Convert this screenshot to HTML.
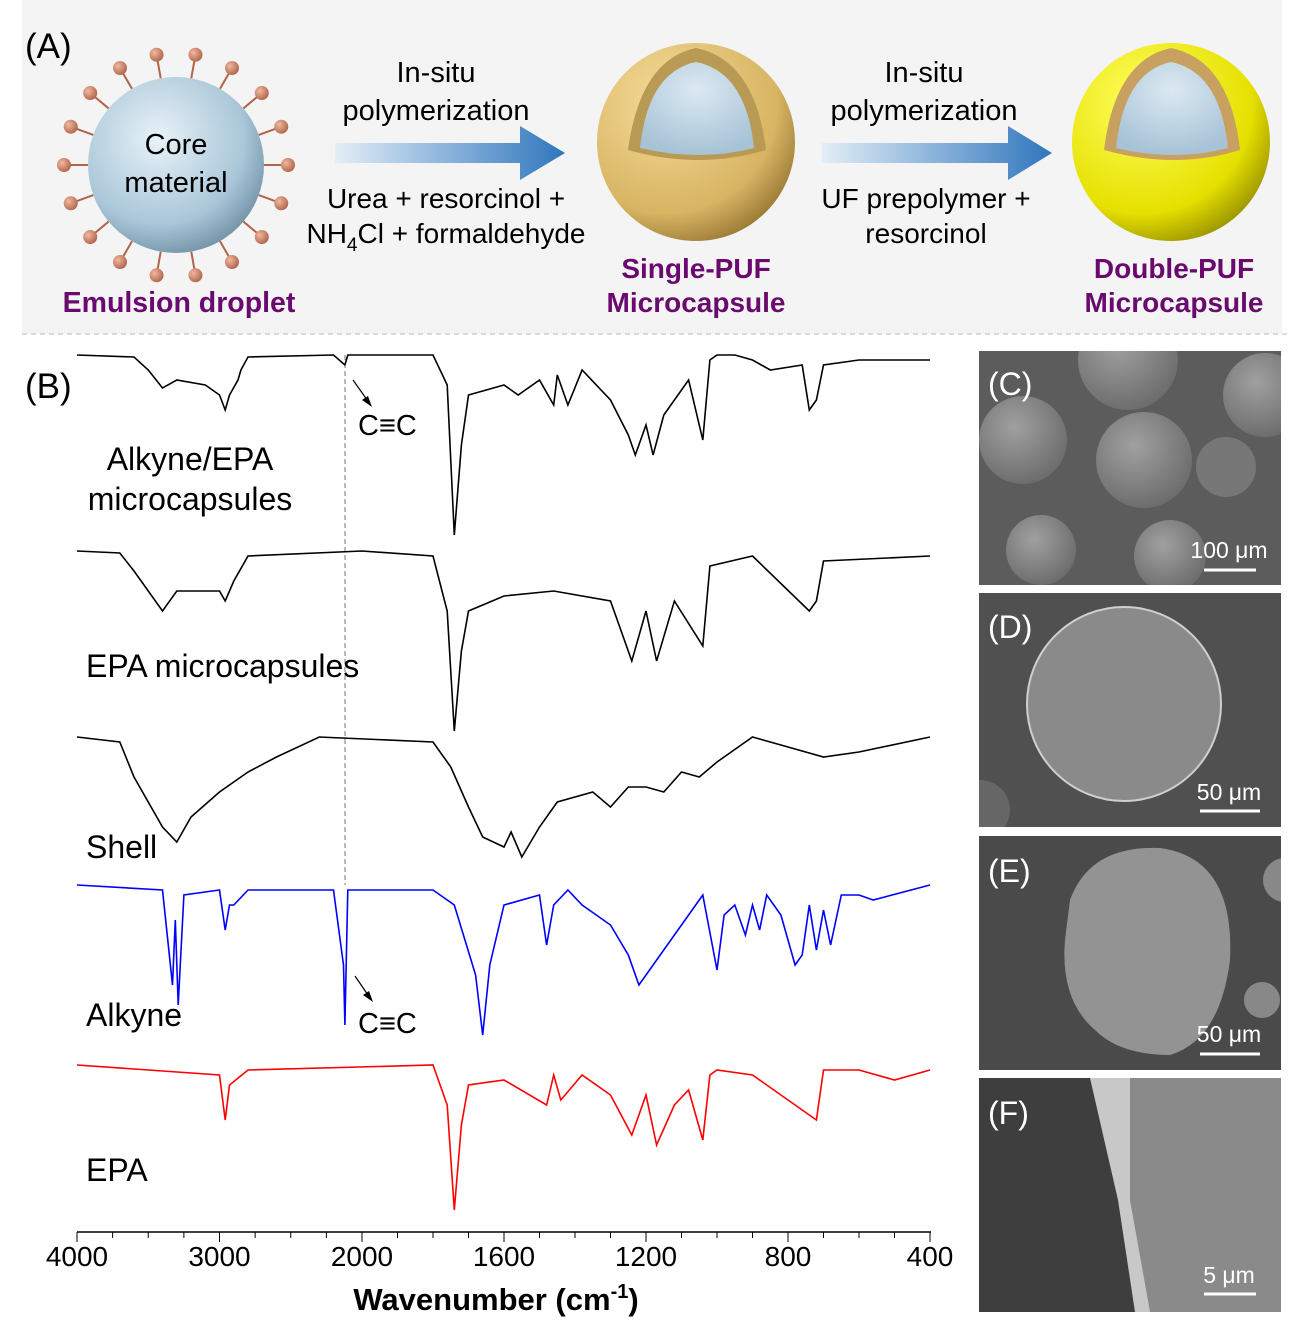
<!DOCTYPE html>
<html><head><meta charset="utf-8">
<style>
body{margin:0;background:#fff;}
svg{display:block;font-family:"Liberation Sans",Arial,sans-serif;}
</style></head>
<body>
<svg id="fig" width="1290" height="1322" viewBox="0 0 1290 1322">
<defs>
<radialGradient id="dropG" cx="0.4" cy="0.35" r="0.7"><stop offset="0" stop-color="#e8f2f8"/><stop offset="0.7" stop-color="#a9c6d8"/><stop offset="1" stop-color="#6f8fa3"/></radialGradient>
<radialGradient id="ballG" cx="0.35" cy="0.3" r="0.8"><stop offset="0" stop-color="#f6dc98"/><stop offset="0.7" stop-color="#d8b463"/><stop offset="1" stop-color="#8d6d2c"/></radialGradient>
<radialGradient id="yelG" cx="0.35" cy="0.3" r="0.8"><stop offset="0" stop-color="#ffff60"/><stop offset="0.7" stop-color="#e6e000"/><stop offset="1" stop-color="#8a8400"/></radialGradient>
<radialGradient id="coreG" cx="0.5" cy="0.3" r="0.7"><stop offset="0" stop-color="#dce9f2"/><stop offset="1" stop-color="#a7c3d6"/></radialGradient>
<linearGradient id="arrG" x1="0" x2="1"><stop offset="0" stop-color="#e3eef7"/><stop offset="1" stop-color="#2f76bd"/></linearGradient>
<radialGradient id="pin" cx="0.35" cy="0.35" r="0.7"><stop offset="0" stop-color="#f0b8a0"/><stop offset="1" stop-color="#b0654a"/></radialGradient>
<radialGradient id="semS" cx="0.4" cy="0.35" r="0.7"><stop offset="0" stop-color="#a0a0a0"/><stop offset="1" stop-color="#6a6a6a"/></radialGradient>
<clipPath id="cC"><rect x="979" y="351" width="302" height="234"/></clipPath>
<clipPath id="cD"><rect x="979" y="593" width="302" height="234"/></clipPath>
<clipPath id="cE"><rect x="979" y="836" width="302" height="234"/></clipPath>
<clipPath id="cF"><rect x="979" y="1078" width="302" height="234"/></clipPath>
</defs>

<!-- Panel A -->
<rect x="22" y="0" width="1260" height="334" fill="#f4f4f4"/>
<line x1="22" y1="334" x2="1288" y2="334" stroke="#bbb" stroke-dasharray="5,4"/>
<text x="25" y="58" font-size="35">(A)</text>
<g id="pins"></g>
<circle cx="176" cy="165" r="88" fill="url(#dropG)"/>
<text x="176" y="154" font-size="29" text-anchor="middle">Core</text>
<text x="176" y="192" font-size="29" text-anchor="middle">material</text>
<text x="179" y="312" font-size="28.5" font-weight="bold" fill="#6a0a6e" text-anchor="middle">Emulsion droplet</text>

<text x="436" y="82" font-size="29" text-anchor="middle">In-situ</text>
<text x="436" y="120" font-size="29" text-anchor="middle">polymerization</text>
<polygon points="335,143 520,143 520,126 565,153 520,180 520,163 335,163" fill="url(#arrG)"/>
<text x="446" y="208" font-size="28" text-anchor="middle">Urea + resorcinol +</text>
<text x="446" y="243" font-size="28" text-anchor="middle">NH<tspan font-size="19" dy="8">4</tspan><tspan dy="-8">Cl + formaldehyde</tspan></text>

<circle cx="696" cy="142" r="99" fill="url(#ballG)"/>
<path d="M628,150 Q640,60 696,48 Q755,60 766,150 Q700,170 628,150Z" fill="#b89a55"/>
<path d="M640,148 Q648,72 696,62 Q746,72 754,148 Q700,162 640,148Z" fill="url(#coreG)"/>
<text x="696" y="278" font-size="28" font-weight="bold" fill="#6a0a6e" text-anchor="middle">Single-PUF</text>
<text x="696" y="312" font-size="28" font-weight="bold" fill="#6a0a6e" text-anchor="middle">Microcapsule</text>

<text x="924" y="82" font-size="29" text-anchor="middle">In-situ</text>
<text x="924" y="120" font-size="29" text-anchor="middle">polymerization</text>
<polygon points="822,143 1008,143 1008,126 1052,153 1008,180 1008,163 822,163" fill="url(#arrG)"/>
<text x="926" y="208" font-size="28" text-anchor="middle">UF prepolymer +</text>
<text x="926" y="243" font-size="28" text-anchor="middle">resorcinol</text>

<circle cx="1171" cy="142" r="99" fill="url(#yelG)"/>
<path d="M1104,150 Q1115,60 1171,48 Q1230,60 1240,150 Q1175,170 1104,150Z" fill="#c8a060"/>
<path d="M1116,148 Q1124,72 1171,62 Q1220,72 1228,148 Q1175,162 1116,148Z" fill="url(#coreG)"/>
<text x="1174" y="278" font-size="28" font-weight="bold" fill="#6a0a6e" text-anchor="middle">Double-PUF</text>
<text x="1174" y="312" font-size="28" font-weight="bold" fill="#6a0a6e" text-anchor="middle">Microcapsule</text>

<!-- Panel B -->
<text x="25" y="398" font-size="35">(B)</text>
<line x1="345" y1="355" x2="345" y2="885" stroke="#777" stroke-dasharray="5,3"/>
<g id="spectra"></g>
<text x="190" y="470" font-size="32" text-anchor="middle">Alkyne/EPA</text>
<text x="190" y="510" font-size="32" text-anchor="middle">microcapsules</text>
<text x="86" y="677" font-size="32">EPA microcapsules</text>
<text x="86" y="858" font-size="32">Shell</text>
<text x="86" y="1026" font-size="32">Alkyne</text>
<text x="86" y="1181" font-size="32">EPA</text>
<text x="358" y="435" font-size="29">C≡C</text>
<line x1="353" y1="380" x2="370" y2="404" stroke="#000" stroke-width="1.2"/>
<polygon points="372,407 362,400 368,396" fill="#000"/>
<text x="358" y="1033" font-size="29">C≡C</text>
<line x1="355" y1="976" x2="370" y2="998" stroke="#000" stroke-width="1.2"/>
<polygon points="373,1002 363,995 369,991" fill="#000"/>

<g id="axis"></g>
<text x="496" y="1310" font-size="31" font-weight="bold" text-anchor="middle">Wavenumber (cm<tspan font-size="20" dy="-12">-1</tspan><tspan dy="12">)</tspan></text>

<!-- SEM panels -->
<g>
<g clip-path="url(#cC)">
<rect x="979" y="351" width="302" height="234" fill="#5c5c5c"/>
<circle cx="1023" cy="440" r="44" fill="url(#semS)"/>
<circle cx="1144" cy="460" r="48" fill="url(#semS)"/>
<circle cx="1128" cy="360" r="50" fill="url(#semS)"/>
<circle cx="1265" cy="395" r="42" fill="url(#semS)"/>
<circle cx="1226" cy="467" r="30" fill="#777"/>
<circle cx="1041" cy="550" r="35" fill="url(#semS)"/>
<circle cx="1170" cy="556" r="36" fill="url(#semS)"/>
</g>
<text x="988" y="395" font-size="32" fill="#fff">(C)</text>
<text x="1229" y="558" font-size="23" fill="#fff" text-anchor="middle">100 μm</text>
<line x1="1204" y1="570" x2="1256" y2="570" stroke="#fff" stroke-width="3"/>
</g>
<g>
<g clip-path="url(#cD)">
<rect x="979" y="593" width="302" height="234" fill="#505050"/>
<circle cx="980" cy="810" r="30" fill="#666"/>
<circle cx="1124" cy="704" r="97" fill="#8a8a8a" stroke="#cfcfcf" stroke-width="2"/>
</g>
<text x="988" y="638" font-size="32" fill="#fff">(D)</text>
<text x="1229" y="800" font-size="23" fill="#fff" text-anchor="middle">50 μm</text>
<line x1="1200" y1="811" x2="1260" y2="811" stroke="#fff" stroke-width="3"/>
</g>
<g>
<g clip-path="url(#cE)">
<rect x="979" y="836" width="302" height="234" fill="#4a4a4a"/>
<path d="M1070,900 Q1090,845 1160,848 Q1235,858 1230,960 Q1220,1040 1170,1055 Q1120,1055 1095,1030 Q1060,1000 1065,940Z" fill="#939393"/>
<circle cx="1262" cy="1000" r="18" fill="#888"/>
<circle cx="1285" cy="880" r="22" fill="#888"/>
</g>
<text x="988" y="882" font-size="32" fill="#fff">(E)</text>
<text x="1229" y="1042" font-size="23" fill="#fff" text-anchor="middle">50 μm</text>
<line x1="1200" y1="1054" x2="1260" y2="1054" stroke="#fff" stroke-width="3"/>
</g>
<g>
<g clip-path="url(#cF)">
<rect x="979" y="1078" width="302" height="234" fill="#3e3e3e"/>
<polygon points="1090,1078 1281,1078 1281,1312 1140,1312 1125,1200" fill="#8a8a8a"/>
<polygon points="1090,1078 1130,1078 1130,1200 1150,1312 1135,1312 1118,1200" fill="#c8c8c8"/>
</g>
<text x="988" y="1124" font-size="32" fill="#fff">(F)</text>
<text x="1229" y="1283" font-size="23" fill="#fff" text-anchor="middle">5 μm</text>
<line x1="1204" y1="1294" x2="1256" y2="1294" stroke="#fff" stroke-width="3"/>
</g>
</svg>
<script>
const NS="http://www.w3.org/2000/svg";
// tick labels
const tickLabels=[4000,3000,2000,1600,1200,800,400];
// series: [wavenumber, depth] pairs
const alkyneEpaWn=[4000,3600,3500,3400,3300,3100,3000,2960,2930,2870,2850,2800,2200,2120,2100,1800,1760,1740,1720,1700,1650,1600,1560,1500,1460,1450,1420,1380,1300,1250,1230,1200,1180,1150,1120,1080,1040,1020,1000,950,900,850,760,740,720,700,600,400];
const alkyneEpaVal=[0,2,15,33,25,30,40,55,40,25,15,2,0,10,0,0,30,180,90,40,35,30,40,25,50,20,50,15,45,80,100,70,100,60,45,25,85,5,0,0,5,15,10,55,45,10,5,5];
const epaMcWn=[4000,3700,3600,3400,3300,3100,3000,2960,2900,2800,2000,1800,1760,1740,1720,1700,1600,1460,1300,1240,1200,1170,1120,1040,1020,900,740,720,700,400];
const epaMcVal=[0,2,20,60,40,40,40,50,30,5,0,5,60,180,100,60,45,40,50,110,60,110,50,95,15,5,60,50,10,5];
const shellWn=[4000,3700,3600,3400,3300,3200,3000,2800,2600,2300,1800,1750,1700,1660,1600,1580,1550,1500,1450,1350,1300,1250,1200,1150,1100,1050,1000,900,800,700,600,400];
const shellVal=[0,5,40,90,105,80,55,35,20,0,5,30,70,100,110,95,120,90,65,55,70,50,50,55,35,40,25,0,10,20,15,0];
const alkyneWn=[4000,3400,3330,3310,3290,3250,3000,2960,2930,2900,2800,2200,2130,2120,2100,1800,1740,1680,1660,1640,1600,1500,1480,1460,1420,1380,1300,1250,1220,1180,1100,1060,1040,1000,980,950,920,900,880,860,820,780,760,740,720,700,680,650,600,560,400];
const alkyneVal=[0,5,100,35,120,10,5,45,20,20,5,5,80,140,5,5,20,90,150,80,20,10,60,20,5,20,40,70,100,80,40,20,10,85,30,20,50,20,45,10,30,80,70,20,65,25,60,10,10,15,0];
const epaWn=[4000,3000,2960,2930,2800,1800,1760,1740,1720,1700,1600,1480,1460,1440,1380,1300,1240,1200,1170,1120,1080,1040,1020,1000,900,740,720,700,600,500,400];
const epaVal=[0,10,55,20,5,0,40,145,60,20,15,40,10,35,10,30,70,30,80,40,25,75,10,5,10,50,55,5,5,15,5];

function xs(w){return w>=2000?77+(4000-w)*0.1425:362+(2000-w)*0.355;}
const g=document.getElementById('spectra');
function trace(wn,val,base,color,name){
  let d='';
  for(let i=0;i<wn.length;i++){d+=(i?'L':'M')+xs(wn[i]).toFixed(1)+','+(base+val[i]).toFixed(1);}
  const p=document.createElementNS(NS,'path');
  p.setAttribute('d',d);p.setAttribute('fill','none');p.setAttribute('stroke',color);p.setAttribute('stroke-width','1.6');
  
  
  g.appendChild(p);
}
trace(alkyneEpaWn,alkyneEpaVal,355,'#000','alkyne-epa-microcapsules-spectrum');
trace(epaMcWn,epaMcVal,551,'#000','epa-microcapsules-spectrum');
trace(shellWn,shellVal,737,'#000','shell-spectrum');
trace(alkyneWn,alkyneVal,885,'#0000ff','alkyne-spectrum');
trace(epaWn,epaVal,1065,'#ff0000','epa-spectrum');

const ax=document.getElementById('axis');
const ln=document.createElementNS(NS,'line');
ln.setAttribute('x1',77);ln.setAttribute('x2',931);ln.setAttribute('y1',1232);ln.setAttribute('y2',1232);ln.setAttribute('stroke','#000');ln.setAttribute('stroke-width','1.5');


ax.appendChild(ln);
const minor=[];
for(let w=4000;w>=2000;w-=250)minor.push(w);
for(let w=1900;w>=400;w-=100)minor.push(w);
minor.forEach(w=>{
  const major=tickLabels.includes(w);
  const t=document.createElementNS(NS,'line');
  t.setAttribute('x1',xs(w));t.setAttribute('x2',xs(w));t.setAttribute('y1',1232);t.setAttribute('y2',major?1242:1238);t.setAttribute('stroke','#000');
  
  
  ax.appendChild(t);
});
tickLabels.forEach(w=>{
  const t=document.createElementNS(NS,'text');
  t.setAttribute('x',xs(w));t.setAttribute('y',1266);t.setAttribute('font-size','28');t.setAttribute('text-anchor','middle');
  t.textContent=w;
  
  
  ax.appendChild(t);
});
// pins around droplet
const pg=document.getElementById('pins');
for(let i=0;i<18;i++){
  const a=i/18*Math.PI*2;
  const x1=176+88*Math.cos(a),y1=165+88*Math.sin(a),x2=176+112*Math.cos(a),y2=165+112*Math.sin(a);
  const l=document.createElementNS(NS,'line');
  l.setAttribute('x1',x1);l.setAttribute('y1',y1);l.setAttribute('x2',x2);l.setAttribute('y2',y2);l.setAttribute('stroke','#b0654a');l.setAttribute('stroke-width','2');
  pg.appendChild(l);
  const c=document.createElementNS(NS,'circle');
  c.setAttribute('cx',x2);c.setAttribute('cy',y2);c.setAttribute('r',7);c.setAttribute('fill','url(#pin)');
  pg.appendChild(c);
}
</script>
</body></html>
